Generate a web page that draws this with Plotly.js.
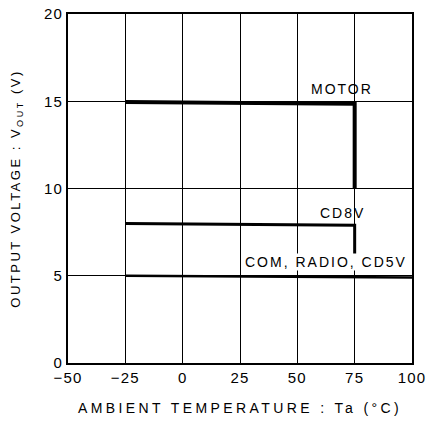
<!DOCTYPE html>
<html>
<head>
<meta charset="utf-8">
<script src="https://cdn.plot.ly/plotly-3.0.1.min.js"></script>
<style>
html,body{margin:0;padding:0;background:#fff;}
#chart{width:427px;height:421px;}
.xtitle{letter-spacing:3.4px;}
.ytitle{letter-spacing:2.5px;}
.xtick text,.ytick text{letter-spacing:1.2px;}
.annotation-text{letter-spacing:2px;}
</style>
</head>
<body>
<div id="chart"></div>
<script>
// Data
const seriesNames = ["MOTOR", "CD8V", "COM, RADIO, CD5V"];
const motorX = [-25, 75, 75];
const motorY = [14.95, 14.85, 10];
const cd8vX = [-25, 75, 75];
const cd8vY = [8.0, 7.9, 6.1];
const comX = [-25, 100];
const comY = [5.0, 4.9];
const xTicks = [-50, -25, 0, 25, 50, 75, 100];
const yTicks = [0, 5, 10, 15, 20];
const labelX = [69.5, 69.5, 62.3];
const labelY = [15.7, 8.6, 5.8];

const traces = [
  {x: motorX, y: motorY, mode: "lines", line: {color: "#000", width: 4}, name: seriesNames[0]},
  {x: cd8vX, y: cd8vY, mode: "lines", line: {color: "#000", width: 3}, name: seriesNames[1]},
  {x: comX, y: comY, mode: "lines", line: {color: "#000", width: 2.5}, name: seriesNames[2]}
];

const annotations = seriesNames.map((n, i) => ({
  x: labelX[i], y: labelY[i], xref: "x", yref: "y", text: n, showarrow: false,
  font: {family: "Liberation Sans, Arial, sans-serif", size: 14, color: "#000"},
  bgcolor: i === 2 ? "#fff" : "rgba(0,0,0,0)", borderpad: 0
}));

const layout = {
  width: 427, height: 421,
  margin: {l: 68, r: 15, t: 14, b: 58},
  paper_bgcolor: "#fff", plot_bgcolor: "#fff",
  showlegend: false,
  font: {family: "Liberation Sans, Arial, sans-serif", color: "#000", size: 14},
  xaxis: {
    range: [-50, 100], tickvals: xTicks, ticktext: xTicks.map(v => v < 0 ? "\u2212" + Math.abs(v) : String(v)),
    showgrid: true, gridcolor: "#000", gridwidth: 1,
    showline: true, linecolor: "#000", linewidth: 2, mirror: true,
    zeroline: false, ticks: "", ticklen: 0,
    tickfont: {size: 15},
    title: {text: "AMBIENT TEMPERATURE : Ta (°C)", font: {size: 14}, standoff: 18}
  },
  yaxis: {
    range: [0, 20], tickvals: yTicks,
    showgrid: true, gridcolor: "#000", gridwidth: 1,
    showline: true, linecolor: "#000", linewidth: 2, mirror: true,
    zeroline: false, ticks: "", ticklen: 0,
    tickfont: {size: 15},
    title: {text: "OUTPUT VOLTAGE : V<sub>OUT</sub> (V)", font: {size: 13}, standoff: 20}
  },
  annotations: annotations
};

Plotly.newPlot("chart", traces, layout, {staticPlot: true, displayModeBar: false});
</script>
</body>
</html>
